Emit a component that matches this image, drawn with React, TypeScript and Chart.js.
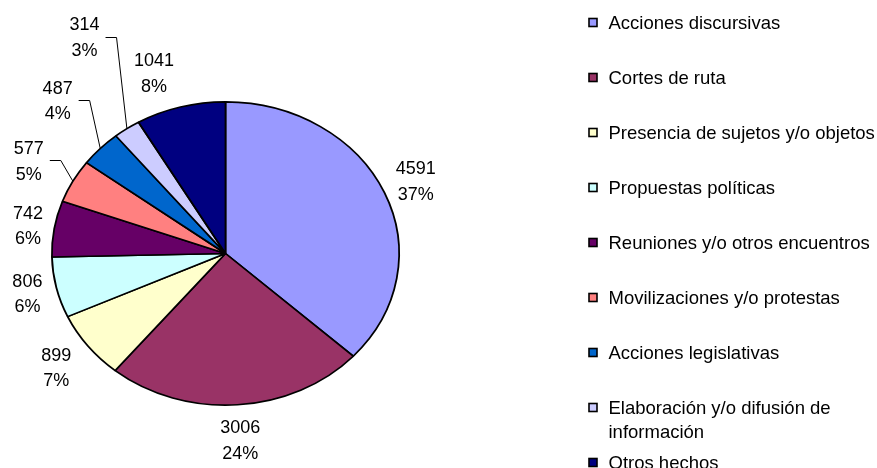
import React, { useEffect, useRef } from 'react';
import { Chart, registerables } from 'chart.js';

Chart.register(...registerables);

const categories = [
  'Acciones discursivas',
  'Cortes de ruta',
  'Presencia de sujetos y/o objetos',
  'Propuestas políticas',
  'Reuniones y/o otros encuentros',
  'Movilizaciones y/o protestas',
  'Acciones legislativas',
  'Elaboración y/o difusión de información',
  'Otros hechos',
];
const values = [4591, 3006, 899, 806, 742, 577, 487, 314, 1041];
const colors = ['#9999FF', '#993366', '#FFFFCC', '#CCFFFF', '#660066', '#FF8080', '#0066CC', '#CCCCFF', '#000080'];

// label layout tweaks (degrees of angular shift, extra radial push in px)
const labelAngleShift = [0, 0, 0, 0, 0, 0, 2.5, 5, -4];
const labelPush = [-3, 3, 4, 0, -2, 16, 30, 66, 4];
const leaderFor = [false, false, false, false, false, true, true, true, false];

const W = 877;
const H = 468;
const SY = 152 / 174; // vertical squash of the pie (ellipse)
const FONT = '18px Arial, "Liberation Sans", sans-serif';
const LEG_FONT = '18.5px Arial, "Liberation Sans", sans-serif';
const CAP = 0.716;

const ellipsePlugin = {
  id: 'ellipse',
  beforeDatasetsDraw(chart: any) {
    const arc = chart.getDatasetMeta(0).data[0];
    if (!arc) return;
    const { x, y } = arc;
    const ctx = chart.ctx;
    ctx.save();
    ctx.translate(x, y);
    ctx.scale(1, SY);
    ctx.translate(-x, -y);
  },
  afterDatasetsDraw(chart: any) {
    chart.ctx.restore();
  },
};

const labelPlugin = {
  id: 'pieLabels',
  afterDraw(chart: any) {
    const ctx = chart.ctx as CanvasRenderingContext2D;
    const meta = chart.getDatasetMeta(0);
    const total = values.reduce((a, b) => a + b, 0);
    ctx.save();
    ctx.font = FONT;
    ctx.fillStyle = '#000';
    ctx.textAlign = 'center';
    ctx.textBaseline = 'alphabetic';
    const lineGap = 25.5;
    const capH = 18 * CAP;
    meta.data.forEach((arc: any, i: number) => {
      const p = arc.getProps(['x', 'y', 'outerRadius', 'startAngle', 'endAngle'], true);
      const mid = (p.startAngle + p.endAngle) / 2;
      const a = mid + (labelAngleShift[i] * Math.PI) / 180;
      const R = p.outerRadius;
      const px = R * Math.cos(a);
      const py = R * SY * Math.sin(a);
      const len = Math.hypot(px, py);
      const ux = px / len;
      const uy = py / len;
      const l1 = String(values[i]);
      const l2 = Math.round((values[i] / total) * 100) + '%';
      const w = Math.max(ctx.measureText(l1).width, ctx.measureText(l2).width) / 2;
      const h = lineGap / 2 + capH / 2;
      const d = 11 + Math.abs(ux) * w + Math.abs(uy) * h + labelPush[i];
      const lx = p.x + px + ux * d;
      const ly = p.y + py + uy * d;
      ctx.fillText(l1, lx, ly - lineGap / 2 + capH / 2);
      ctx.fillText(l2, lx, ly + lineGap / 2 + capH / 2);
      if (leaderFor[i]) {
        const side = ux < 0 ? 1 : -1;
        const sx = lx + side * (w + 6);
        const ex = p.x + R * Math.cos(mid);
        const ey = p.y + R * SY * Math.sin(mid);
        const yy = Math.round(ly) + 0.5;
        ctx.strokeStyle = '#000';
        ctx.lineWidth = 1;
        ctx.beginPath();
        ctx.moveTo(sx, yy);
        ctx.lineTo(sx + side * 11, yy);
        ctx.lineTo(ex, ey);
        ctx.stroke();
      }
    });
    ctx.restore();
  },
};

const legendPlugin = {
  id: 'sideLegend',
  afterDraw(chart: any) {
    const ctx = chart.ctx as CanvasRenderingContext2D;
    ctx.save();
    ctx.font = LEG_FONT;
    ctx.fillStyle = '#000';
    ctx.textAlign = 'left';
    ctx.textBaseline = 'alphabetic';
    const top = 22;
    const step = 55;
    const boxX = 589;
    const box = 8;
    const textX = 608.5;
    const maxW = W - textX + 8;
    const capH = 18.5 * CAP;
    const lineH = 24;
    categories.forEach((cat, i) => {
      const y = top + i * step;
      const by = Math.round(y - box / 2) + 0.5;
      ctx.fillStyle = colors[i];
      ctx.fillRect(boxX, by, box, box);
      ctx.strokeStyle = '#000';
      ctx.lineWidth = 1.6;
      ctx.strokeRect(boxX, by, box, box);
      ctx.fillStyle = '#000';
      const words = cat.split(' ');
      const lines: string[] = [];
      let cur = '';
      words.forEach((wd) => {
        const test = cur ? cur + ' ' + wd : wd;
        if (ctx.measureText(test).width > maxW && cur) {
          lines.push(cur);
          cur = wd;
        } else cur = test;
      });
      if (cur) lines.push(cur);
      lines.forEach((ln, k) => {
        ctx.fillText(ln, textX, y + k * lineH + capH / 2);
      });
    });
    ctx.restore();
  },
};

export default function App() {
  const ref = useRef<HTMLCanvasElement>(null);
  useEffect(() => {
    if (!ref.current) return;
    const chart = new Chart(ref.current, {
      type: 'pie',
      data: {
        labels: categories,
        datasets: [
          {
            data: values,
            backgroundColor: colors,
            borderColor: '#000',
            borderWidth: 1.8,
          },
        ],
      },
      options: {
        responsive: false,
        animation: false,
        devicePixelRatio: 1,
        layout: { padding: { left: 51, right: 477, top: 79, bottom: 40 } },
        plugins: {
          legend: { display: false },
          tooltip: { enabled: false },
        },
      },
      plugins: [ellipsePlugin, labelPlugin, legendPlugin],
    } as any);
    return () => chart.destroy();
  }, []);
  return (
    <div style={{ position: 'fixed', left: 0, top: 0, width: W, height: H, background: '#fff' }}>
      <canvas ref={ref} width={W} height={H} style={{ width: W, height: H, display: 'block' }} />
    </div>
  );
}
